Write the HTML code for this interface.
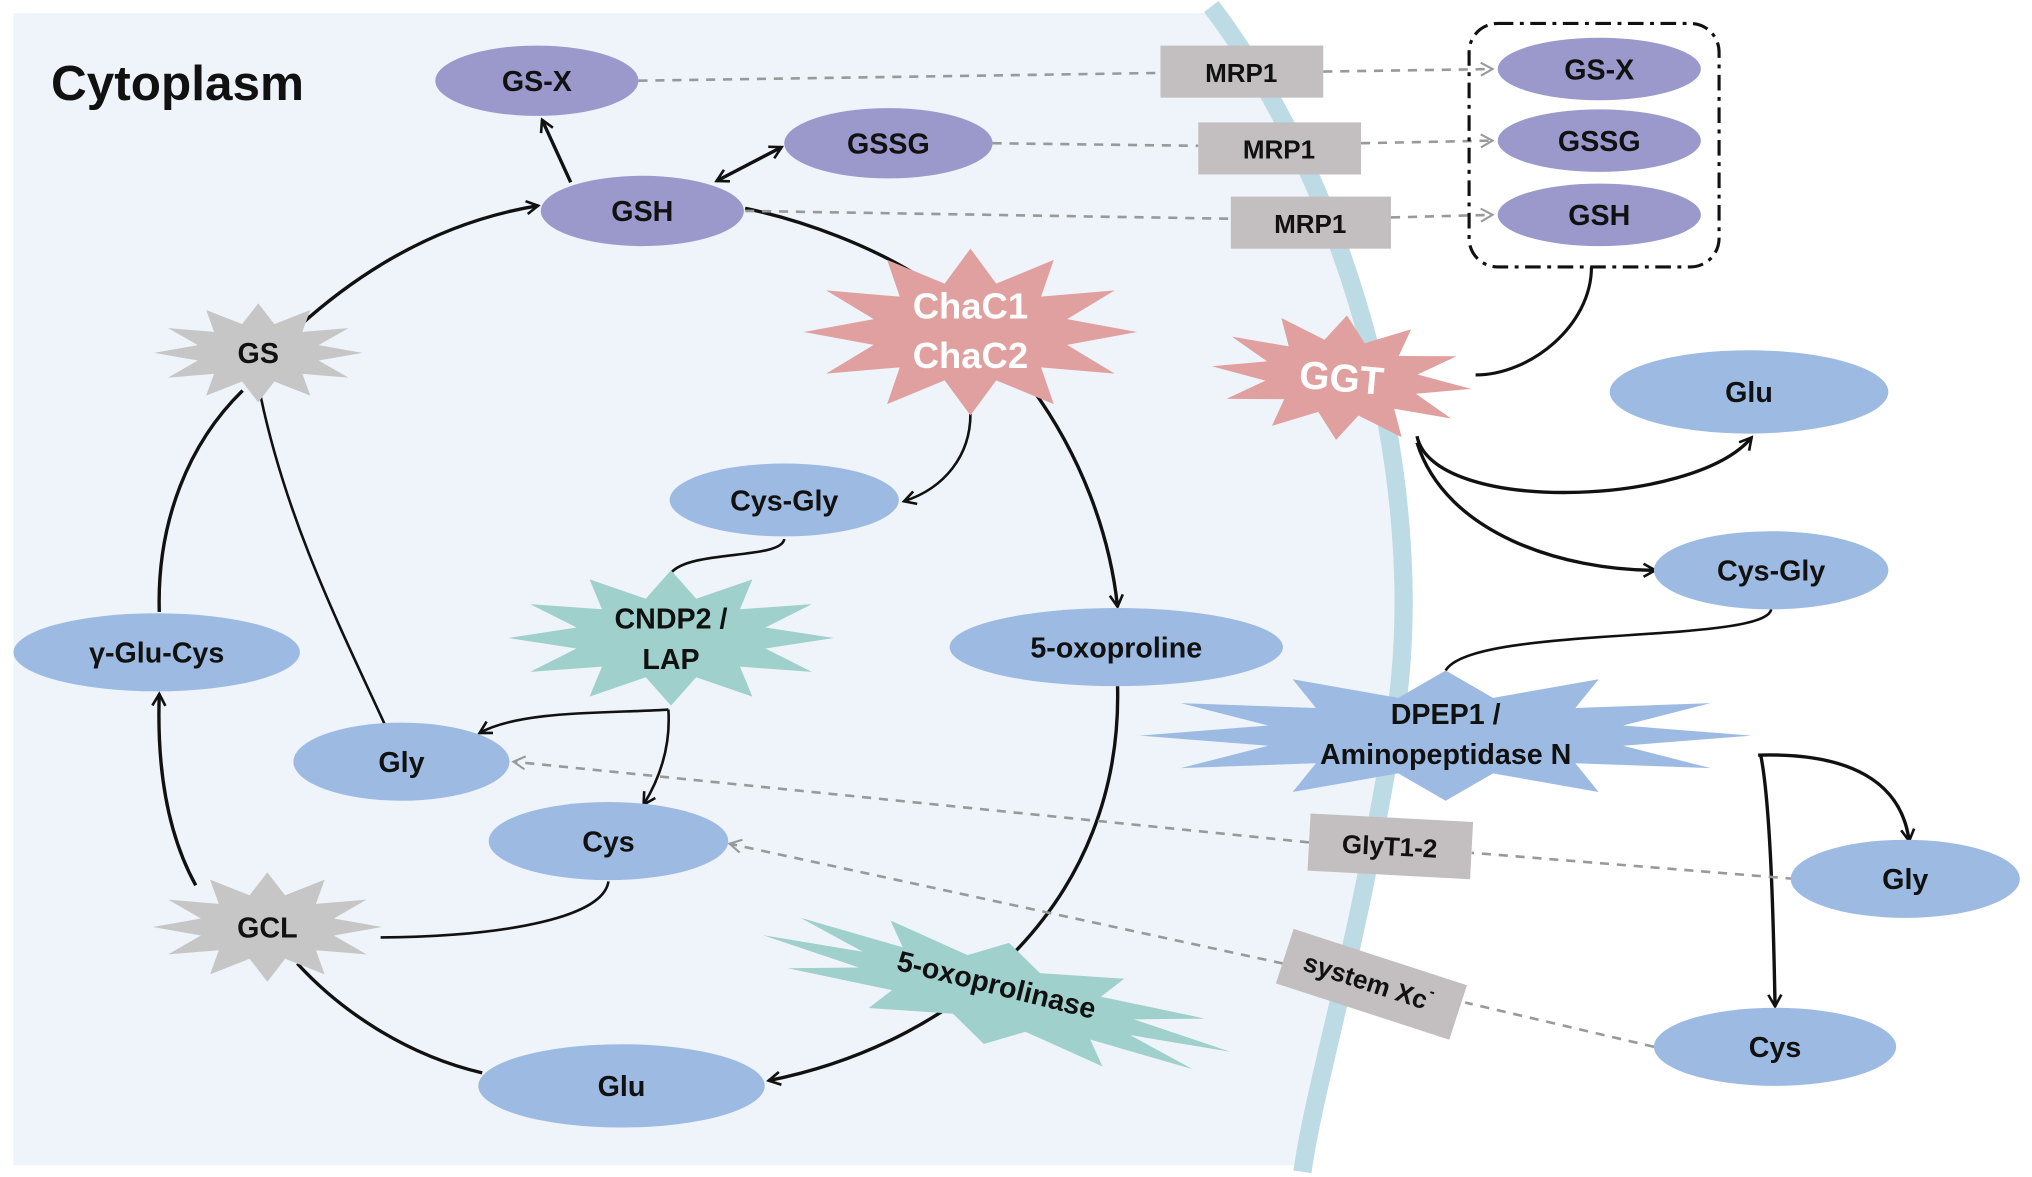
<!DOCTYPE html>
<html><head><meta charset="utf-8"><style>
html,body{margin:0;padding:0;background:#fff;}
svg{display:block;}
text{font-family:"Liberation Sans",Arial,sans-serif;font-weight:bold;text-anchor:middle;dominant-baseline:central;fill:#111;}
</style></head><body>
<svg width="2032" height="1177" viewBox="0 0 1560 904" xmlns="http://www.w3.org/2000/svg">
<defs>
<polygon id="star" points="1,0 0.58,0.155 0.866,0.5 0.424,0.424 0.5,0.866 0.155,0.58 0,1 -0.155,0.58 -0.5,0.866 -0.424,0.424 -0.866,0.5 -0.58,0.155 -1,0 -0.58,-0.155 -0.866,-0.5 -0.424,-0.424 -0.5,-0.866 -0.155,-0.58 0,-1 0.155,-0.58 0.5,-0.866 0.424,-0.424 0.866,-0.5 0.58,-0.155"/>
<marker id="ah" viewBox="0 0 12 12" refX="10" refY="6" markerWidth="12" markerHeight="12" markerUnits="userSpaceOnUse" orient="auto-start-reverse">
<path d="M1,1 L10,6 L1,11" fill="none" stroke="#111" stroke-width="2"/></marker>
<marker id="ag" viewBox="0 0 12 12" refX="10" refY="6" markerWidth="12" markerHeight="12" markerUnits="userSpaceOnUse" orient="auto">
<path d="M1,1 L10,6 L1,11" fill="none" stroke="#999" stroke-width="1.6"/></marker>
</defs>
<path d="M10,10 L928,10 C1038,150 1098,380 1068,560 S1008,830 998,895 L10,895 Z" fill="#eef4fa"/>
<path d="M930,5 C1040,150 1100,380 1070,560 S1010,830 1000,900" fill="none" stroke="#bcdbe4" stroke-width="14"/>
<text x="136" y="64" style="font-size:38px">Cytoplasm</text>

<g fill="none" stroke="#111" stroke-width="2.6">
<path d="M438,140 L416,92" marker-end="url(#ah)"/>
<path d="M550,139 L600,113" marker-end="url(#ah)" marker-start="url(#ah)"/>
<path d="M230,250 C280,205 340,170 413,158" marker-end="url(#ah)"/>
<path d="M572,160 C620,170 670,190 705,212"/>
<path d="M792,298 C830,350 852,410 858,466" marker-end="url(#ah)"/>
<path d="M858,527 C862,690 740,800 590,830" marker-end="url(#ah)"/>
<path d="M370,824 C310,810 260,775 228,740"/>
<path d="M150,680 C128,640 120,590 122,533" marker-end="url(#ah)"/>
<path d="M122,470 C120,400 145,340 186,300"/>
<path d="M200,305 C220,400 260,480 295,556" stroke-width="2"/>
<path d="M745,318 C745,350 725,375 694,385" marker-end="url(#ah)" stroke-width="2"/>
<path d="M602,414 C600,430 530,422 515,440" stroke-width="2"/>
<path d="M513,545 C470,548 400,545 368,563" marker-end="url(#ah)" stroke-width="2"/>
<path d="M513,545 C515,575 505,600 494,618" marker-end="url(#ah)" stroke-width="2"/>
<path d="M467,677 C462,710 360,720 292,720" stroke-width="2"/>
<path d="M1222,205 C1222,250 1175,288 1133,288" stroke-width="2.4"/>
<path d="M1088,335 C1100,395 1300,390 1345,336" marker-end="url(#ah)"/>
<path d="M1088,340 C1110,410 1200,438 1271,438" marker-end="url(#ah)"/>
<path d="M1360,468 C1355,495 1130,480 1110,515" stroke-width="2"/>
<path d="M1350,580 C1420,578 1460,600 1466,646" marker-end="url(#ah)"/>
<path d="M1352,580 C1360,620 1362,720 1363,773" marker-end="url(#ah)"/>
</g>

<g fill="none" stroke="#999" stroke-width="2" stroke-dasharray="7,6">
<path d="M490,62 L891,56"/><path d="M1016,55 L1146,53" marker-end="url(#ag)"/>
<path d="M762,110 L920,112"/><path d="M1045,110 L1146,108" marker-end="url(#ag)"/>
<path d="M572,162 L945,168"/><path d="M1068,167 L1146,165" marker-end="url(#ag)"/>
<path d="M1378,675 L1130,655"/><path d="M1005,647 L394,585" marker-end="url(#ag)"/>
<path d="M1270,804 L1125,770"/><path d="M985,740 L560,648" marker-end="url(#ag)"/>
</g>

<rect x="1128" y="18" width="192" height="187" rx="22" fill="none" stroke="#111" stroke-width="2.4" stroke-dasharray="12,5,3,5"/>

<use href="#star" fill="#c6c6c6" transform="translate(198,271) scale(80,38)"/>
<use href="#star" fill="#c6c6c6" transform="translate(205,712) scale(88,42)"/>
<use href="#star" fill="#e0a09f" transform="translate(745,255) scale(128,64)"/>
<use href="#star" fill="#e0a09f" transform="translate(1030,290) rotate(5) scale(100,48)"/>
<use href="#star" fill="#9fd0cb" transform="translate(515,490) scale(125,52)"/>
<use href="#star" fill="#9dbbe2" transform="translate(1110,565) scale(235,50)"/>
<use href="#star" fill="#9fd0cb" transform="translate(765,763) rotate(14) scale(185,40)"/>

<g fill="#9b98cc">
<ellipse cx="412" cy="62" rx="78" ry="27"/>
<ellipse cx="682" cy="110" rx="80" ry="27"/>
<ellipse cx="493" cy="162" rx="78" ry="27"/>
<ellipse cx="1228" cy="53" rx="78" ry="24"/>
<ellipse cx="1228" cy="108" rx="78" ry="24"/>
<ellipse cx="1228" cy="165" rx="78" ry="24"/>
</g>
<g fill="#9dbbe2">
<ellipse cx="1343" cy="301" rx="107" ry="32"/>
<ellipse cx="1360" cy="438" rx="90" ry="30"/>
<ellipse cx="1463" cy="675" rx="88" ry="30"/>
<ellipse cx="1363" cy="804" rx="93" ry="30"/>
<ellipse cx="602" cy="384" rx="88" ry="28"/>
<ellipse cx="857" cy="497" rx="128" ry="30"/>
<ellipse cx="120" cy="501" rx="110" ry="30"/>
<ellipse cx="308" cy="585" rx="83" ry="30"/>
<ellipse cx="467" cy="646" rx="92" ry="30"/>
<ellipse cx="477" cy="834" rx="110" ry="32"/>
</g>
<g fill="#c3bfc0">
<rect x="891" y="35" width="125" height="40"/>
<rect x="920" y="94" width="125" height="40"/>
<rect x="945" y="151" width="123" height="40"/>
<rect x="1005" y="628" width="125" height="44" transform="rotate(3 1067 650)"/>
<rect x="983" y="734" width="140" height="44" transform="rotate(18 1053 756)"/>
</g>

<g style="font-size:22px">
<text x="412" y="63">GS-X</text>
<text x="682" y="111">GSSG</text>
<text x="493" y="163">GSH</text>
<text x="1228" y="54">GS-X</text>
<text x="1228" y="109">GSSG</text>
<text x="1228" y="166">GSH</text>
<text x="953" y="56" style="font-size:20px">MRP1</text>
<text x="982" y="115" style="font-size:20px">MRP1</text>
<text x="1006" y="172" style="font-size:20px">MRP1</text>
<text x="1343" y="302">Glu</text>
<text x="1360" y="439">Cys-Gly</text>
<text x="1463" y="676">Gly</text>
<text x="1363" y="805">Cys</text>
<text x="602" y="385">Cys-Gly</text>
<text x="857" y="498">5-oxoproline</text>
<text x="120" y="502">γ-Glu-Cys</text>
<text x="308" y="586">Gly</text>
<text x="467" y="647">Cys</text>
<text x="477" y="835">Glu</text>
<text x="198" y="272">GS</text>
<text x="205" y="713">GCL</text>
<text x="745" y="235" style="font-size:28px;fill:#fff">ChaC1</text>
<text x="745" y="273" style="font-size:28px;fill:#fff">ChaC2</text>
<text x="1030" y="291" transform="rotate(5 1030 291)" style="font-size:30px;fill:#fff">GGT</text>
<text x="515" y="476">CNDP2 /</text>
<text x="515" y="507">LAP</text>
<text x="1110" y="549">DPEP1 /</text>
<text x="1110" y="580">Aminopeptidase N</text>
<text x="765" y="757" transform="rotate(14 765 757)">5-oxoprolinase</text>
<text x="1067" y="650" transform="rotate(3 1067 650)" style="font-size:20px">GlyT1-2</text>
<text x="1050" y="755" transform="rotate(18 1053 756)" style="font-size:20px">system Xc<tspan style="font-size:12px" dy="-8">-</tspan></text>
</g>
</svg>
</body></html>
